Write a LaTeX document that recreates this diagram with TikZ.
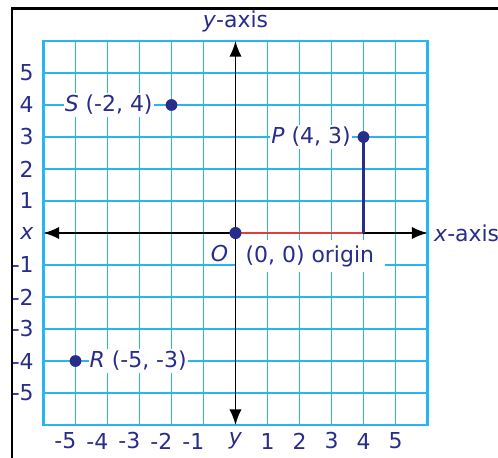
\documentclass[tikz,border=0pt]{standalone}
\usepackage{fontspec}
\setmainfont{DejaVu Sans}
\usetikzlibrary{arrows.meta}

\definecolor{inkblue}{RGB}{40,44,138}
\definecolor{gridblue}{RGB}{40,182,240}
\definecolor{segred}{RGB}{222,62,62}

\tikzset{
  lbl/.style={text=inkblue, inner sep=0pt, font=\fontsize{19.5}{23}\selectfont},
  ptlabel/.style={lbl, fill=white, inner xsep=1pt, inner ysep=2pt},
  dot/.style={circle, fill=inkblue, inner sep=0pt, minimum size=10.5pt},
  axis/.style={line width=1.5pt, {Latex[length=14pt,width=11pt]}-{Latex[length=14pt,width=11pt]}},
}

\begin{document}
\begin{tikzpicture}
  \useasboundingbox (-7.359,-7.0) rectangle (8.203,7.281);

  % --- frame ---
  \draw[line width=2.4pt] (-6.98,-7.3) -- (-6.98,7.02) -- (8.4,7.02);

  % --- grid ---
  \draw[gridblue, line width=1.4pt] (-6,-6) grid (6,6);
  \draw[gridblue, line width=1.9pt] (-6,-6) rectangle (6,6);

  % --- tick labels ---
  \foreach \k in {1,...,5} {
    \node[lbl, anchor=east] (yl\k) at (-6.3,\k) {\k};
    \node[lbl, anchor=east] (ym\k) at (-6.3,-\k) {-\k};
    \node[lbl] (xl\k) at (\k,-6.5) {\k};
    \node[lbl, anchor=east] (xm\k) at (-\k+0.03,-6.5) {-\k};
  }
  \node[lbl, anchor=east] (xname) at (-6.3,0) {\textit{x}};
  \node[lbl] (yname) at (0,-6.5) {\textit{y}};

  % --- point labels (white boxes over the grid) ---
  \node[ptlabel, anchor=east] (Slbl) at (-2.55,4) {\textit{S} (-2, 4)};
  \node[ptlabel, anchor=east] (Plbl) at (3.64,3) {\textit{P} (4, 3)};
  \node[ptlabel, anchor=west] (Rlbl) at (-4.6,-4) {\textit{R} (-5, -3)};
  \node[ptlabel, anchor=west, inner xsep=0.34cm, inner ysep=0.18cm] (Olbl) at (-0.03,-0.72) {(0, 0) origin};
  \node[lbl] (Oname) at (-0.5,-0.63) {\textit{O}};

  % --- axes ---
  \coordinate (xleft) at (-6,0);
  \coordinate (xright) at (6,0);
  \coordinate (ytop) at (0,6);
  \coordinate (ybot) at (0,-6);
  \draw[axis] (xleft) -- (xright);
  \draw[axis] (ybot) -- (ytop);
  \node[lbl] (yaxis) at (0,6.62) {\textit{y}-axis};
  \node[lbl, anchor=west] (xaxis) at (6.2,0) {\textit{x}-axis};

  % --- points ---
  \coordinate (Pfoot) at (4,0);
  \node[dot] (O) at (0,0) {};
  \node[dot] (P) at (4,3) {};
  \node[dot] (S) at (-2,4) {};
  \node[dot] (R) at (-5,-4) {};
  \draw[segred, line width=2pt] (O.center) -- (Pfoot);
  \draw[inkblue, line width=2pt] (P.center) -- (Pfoot);
  \node[dot] at (O) {};

\end{tikzpicture}
\end{document}
